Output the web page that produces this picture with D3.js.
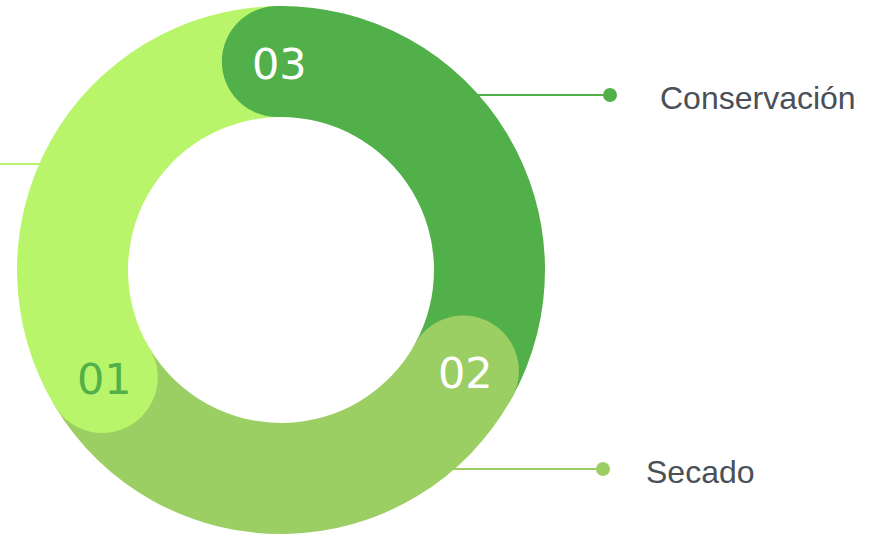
<!DOCTYPE html>
<html>
<head>
<meta charset="utf-8">
<script src="https://cdn.jsdelivr.net/npm/d3@7"></script>
<style>
  body { margin: 0; background: #fff; }
  svg { display: block; }
</style>
</head>
<body>
<div id="chart"></div>
<script>
// segments, drawn clockwise starting at 12 o'clock
const steps = ["03", "02", "01"];
const shares = [1, 1, 1];
const colors = ["#52b04a", "#9ccf63", "#b8f56a"];
const textColors = ["#ffffff", "#ffffff", "#52b04a"];
// leader labels (third one sits off to the left, outside the view)
const labels = ["Conservación", "Secado", ""];

const width = 871;
const height = 536;
const cx = 281, cy = 270;
const outerR = 264, innerR = 153;
const midR = (outerR + innerR) / 2;
const capR = (outerR - innerR) / 2;
const offset = -1 * Math.PI / 180;

// leader line heights (layout only)
const leaderY = [95, 469, 164];
const dotX = [610, 603, null];
const textX = [660, 646, null];

const svg = d3.select("#chart")
  .append("svg")
  .attr("width", width)
  .attr("height", height);

const pie = d3.pie().sort(null).value(d => d)
  .startAngle(offset).endAngle(offset + 2 * Math.PI);
const arcs = pie(shares);

const arc = d3.arc().innerRadius(innerR).outerRadius(outerR);

// leader lines go under the ring
const leaders = svg.append("g");
arcs.forEach((a, i) => {
  const y = leaderY[i];
  const dx = Math.sqrt(outerR * outerR - (y - cy) * (y - cy));
  const right = dotX[i] !== null;
  const x1 = right ? cx + dx - 20 : cx - dx + 20;
  const x2 = right ? dotX[i] : 0;
  leaders.append("line")
    .attr("x1", x1).attr("x2", x2)
    .attr("y1", y).attr("y2", y)
    .attr("stroke", colors[i])
    .attr("stroke-width", 2);
  if (right) {
    leaders.append("circle")
      .attr("cx", dotX[i]).attr("cy", y).attr("r", 7)
      .attr("fill", colors[i]);
    leaders.append("text")
      .attr("x", textX[i]).attr("y", y + 14)
      .attr("fill", "#4a5058")
      .style("font", "32px 'Liberation Sans', Arial, sans-serif")
      .text(labels[i]);
  }
});

const g = svg.append("g").attr("transform", `translate(${cx},${cy})`);

// ring bodies
g.selectAll("path.seg")
  .data(arcs)
  .join("path")
  .attr("class", "seg")
  .attr("d", arc)
  .attr("fill", (d, i) => colors[i]);

// rounded caps at each segment start, overlapping the previous segment
const capPos = d => [midR * Math.sin(d.startAngle), -midR * Math.cos(d.startAngle)];

g.selectAll("circle.cap")
  .data(arcs)
  .join("circle")
  .attr("class", "cap")
  .attr("cx", d => capPos(d)[0])
  .attr("cy", d => capPos(d)[1])
  .attr("r", capR)
  .attr("fill", (d, i) => colors[i]);

g.selectAll("text.step")
  .data(arcs)
  .join("text")
  .attr("class", "step")
  .attr("x", d => capPos(d)[0] + 2)
  .attr("y", d => capPos(d)[1] + 17)
  .attr("text-anchor", "middle")
  .attr("fill", (d, i) => textColors[i])
  .style("font", "43px 'DejaVu Sans', sans-serif")
  .text((d, i) => steps[i]);
</script>
</body>
</html>
